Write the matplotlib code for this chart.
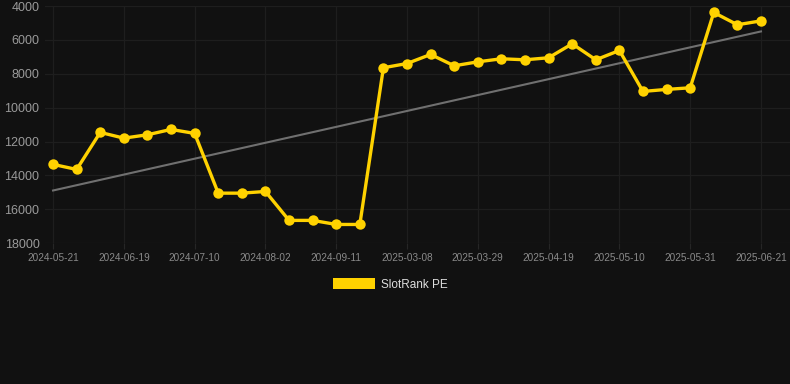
import numpy as np
from matplotlib import pyplot as plt
from matplotlib.patches import Patch

# SlotRank PE, one point per week-ish sample (lower rank = better, axis inverted)
rank_values = [13350, 13650, 11460, 11800, 11600, 11285, 11520, 15050, 15050, 14950,
               16660, 16660, 16900, 16900, 7640, 7390, 6855, 7525, 7290, 7110,
               7170, 7050, 6225, 7170, 6620, 9040, 8920, 8825, 4375, 5100, 4870]
tick_labels = ["2024-05-21", "2024-06-19", "2024-07-10", "2024-08-02", "2024-09-11",
               "2025-03-08", "2025-03-29", "2025-04-19", "2025-05-10", "2025-05-31",
               "2025-06-21"]
y_ticks = [4000, 6000, 8000, 10000, 12000, 14000, 16000, 18000]

bg = "#111111"
gold = "#FFD200"


def main():
    plt.rcParams['font.family'] = ['Liberation Sans', 'DejaVu Sans']

    fig = plt.figure(figsize=(7.9, 3.84), dpi=100, facecolor=bg)
    ax = fig.add_axes([0.057, 0.367, 0.943, 0.617])
    ax.set_facecolor(bg)

    x = np.arange(len(rank_values))
    y = np.array(rank_values, dtype=float)

    # linear trend through the series
    slope, intercept = np.polyfit(x, y, 1)
    ax.plot(x, slope * x + intercept, color="#707070", lw=1.5, zorder=2)

    ax.plot(x, y, color=gold, lw=2.4, marker='o', markersize=7.5,
            markeredgewidth=0, zorder=3)

    ax.set_xlim(-0.34, 31.23)
    ax.set_ylim(18000, 4000)
    ax.set_yticks(y_ticks)
    ax.set_yticklabels([str(v) for v in y_ticks])
    ax.set_xticks(x[::3])
    ax.set_xticklabels(tick_labels)

    ax.grid(True, color="#1e1e1e", lw=0.9)
    ax.set_axisbelow(True)
    for s in ax.spines.values():
        s.set_visible(False)
    ax.tick_params(axis='y', length=0, pad=4, labelsize=9, labelcolor="#9a9a9a")
    ax.tick_params(axis='x', length=4, color="#262626", pad=3, labelsize=7.2,
                   labelcolor="#8a8a8a")

    handle = Patch(facecolor=gold, edgecolor='none')
    fig.legend([handle], ["SlotRank PE"], loc='center', bbox_to_anchor=(0.494, 0.26),
               frameon=False, labelcolor="#dddddd", fontsize=8.5,
               handlelength=3.6, handleheight=1.1, handletextpad=0.5)

    fig.savefig("out.png", dpi=100, facecolor=bg)


if __name__ == "__main__":
    main()
